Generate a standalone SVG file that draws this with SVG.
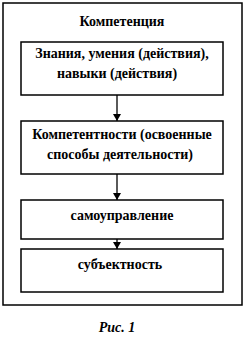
<svg xmlns="http://www.w3.org/2000/svg" width="246" height="343" viewBox="0 0 246 343">
<style>
.b{fill:#fff;stroke:#000;stroke-width:1.5}
.t{font-weight:bold;font-size:14px;text-anchor:middle;fill:#000}
.c{stroke:#000;stroke-width:1.3;fill:none}
</style>
<defs>
<marker id="ah" markerWidth="7" markerHeight="8" refX="7" refY="4" orient="auto" markerUnits="userSpaceOnUse">
<path d="M0,0 L7,4 L0,8 Z" fill="#000"/>
</marker>
</defs>
<rect width="246" height="343" fill="#fff"/>
<g font-family="Liberation Serif, Times New Roman, serif">
<g id="outer">
<rect class="b" x="3" y="3" width="239" height="302"/>
<text class="t" x="122" y="26">Компетенция</text>
</g>
<g id="n1">
<rect class="b" x="21" y="42" width="202" height="53"/>
<text class="t" x="122" y="58">Знания, умения (действия),</text>
<text class="t" x="117" y="78">навыки (действия)</text>
</g>
<g id="n2">
<rect class="b" x="21" y="121" width="202" height="53"/>
<text class="t" x="122" y="139">Компетентности (освоенные</text>
<text class="t" x="120" y="159">способы деятельности)</text>
</g>
<g id="n3">
<rect class="b" x="21" y="200" width="202" height="39"/>
<text class="t" x="122" y="220">самоуправление</text>
</g>
<g id="n4">
<rect class="b" x="21" y="249" width="202" height="43"/>
<text class="t" x="120" y="269">субъектность</text>
</g>
<g id="connectors">
<line class="c" x1="117" y1="95" x2="117" y2="121" marker-end="url(#ah)"/>
<line class="c" x1="117" y1="174" x2="117" y2="200" marker-end="url(#ah)"/>
<line class="c" x1="117" y1="239" x2="117" y2="249" marker-end="url(#ah)"/>
</g>
<text class="t" x="117" y="332" font-style="italic">Рис. 1</text>
</g>
</svg>
